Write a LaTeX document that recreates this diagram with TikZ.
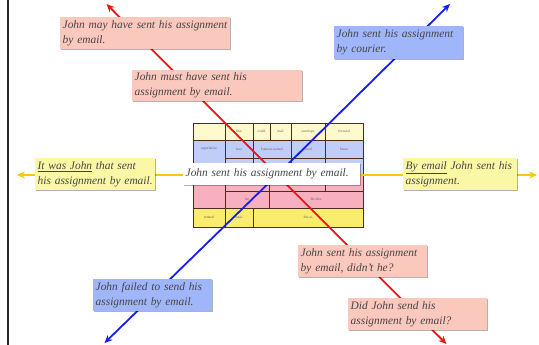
\documentclass[tikz,border=0pt]{standalone}
\usepackage{fontspec}
\setmainfont{Liberation Serif}
\usetikzlibrary{arrows.meta,shadows}

\definecolor{inkc}{RGB}{72,68,72}
\definecolor{salmonc}{RGB}{250,200,188}
\definecolor{bluec}{RGB}{160,182,250}
\definecolor{yellowc}{RGB}{250,248,165}
\definecolor{redax}{RGB}{240,20,20}
\definecolor{blueax}{RGB}{20,30,245}
\definecolor{goldax}{RGB}{250,200,10}
\definecolor{tcream}{RGB}{255,250,205}
\definecolor{tblue}{RGB}{192,204,250}
\definecolor{tpink}{RGB}{248,176,192}
\definecolor{tyellow}{RGB}{250,236,110}
\definecolor{tline}{RGB}{75,45,25}
\definecolor{ttext}{RGB}{110,90,80}

\tikzset{
  note/.style={anchor=north west, draw=none, inner xsep=2.5pt, inner ysep=0pt,
    align=left, text=inkc, font=\fontsize{11.4}{15}\selectfont\itshape,
    drop shadow={shadow xshift=1.2pt, shadow yshift=-1.2pt, fill=black, opacity=0.3}},
  salmonnote/.style={note, fill=salmonc},
  bluenote/.style={note, fill=bluec},
  yellownote/.style={note, fill=yellowc},
  axisline/.style={line width=1.8pt, -{Stealth[length=8pt,width=7pt]}},
  cellbox/.style={draw=tline, line width=0.8pt},
  celltext/.style={text=ttext, font=\fontsize{3.6}{4}\selectfont, inner sep=0pt}
}

\begin{document}
\begin{tikzpicture}[x=1pt,y=-1pt]
\useasboundingbox (0,0) rectangle (539,345);

% left margin rule
\draw[line width=1.1pt, black!85] (8,0) -- (8,345);

% ---- table of forms ----
% header row
\path[cellbox, fill=tcream] (193,123) rectangle (225,140);
\path[cellbox, fill=tcream] (225,123) rectangle (253,140);
\path[cellbox, fill=tcream] (253,123) rectangle (270,140);
\path[cellbox, fill=tcream] (270,123) rectangle (291,140);
\path[cellbox, fill=tcream] (291,123) rectangle (325,140);
\path[cellbox, fill=tcream] (325,123) rectangle (363,140);
% blue rows
\path[cellbox, fill=tblue] (193,140) rectangle (225,174);
\path[cellbox, fill=tblue] (225,140) rectangle (253,158);
\path[cellbox, fill=tblue] (253,140) rectangle (291,158);
\path[cellbox, fill=tblue] (291,140) rectangle (325,158);
\path[cellbox, fill=tblue] (325,140) rectangle (363,158);
\path[cellbox, fill=tblue] (225,158) rectangle (253,174);
\path[cellbox, fill=tblue] (253,158) rectangle (291,174);
\path[cellbox, fill=tblue] (291,158) rectangle (325,174);
\path[cellbox, fill=tblue] (325,158) rectangle (363,174);
% pink rows
\path[cellbox, fill=tpink] (193,174) rectangle (225,208);
\path[cellbox, fill=tpink] (225,174) rectangle (269,191);
\path[cellbox, fill=tpink] (269,174) rectangle (325,191);
\path[cellbox, fill=tpink] (325,174) rectangle (363,191);
\path[cellbox, fill=tpink] (225,191) rectangle (269,208);
\path[cellbox, fill=tpink] (269,191) rectangle (363,208);
% yellow row
\path[cellbox, fill=tyellow] (193,208) rectangle (225,227);
\path[cellbox, fill=tyellow] (225,208) rectangle (253,227);
\path[cellbox, fill=tyellow] (253,208) rectangle (363,227);

% cell words
\node[celltext] (c1) at (239,131.5) {like};
\node[celltext] (c2) at (261.5,131.5) {could};
\node[celltext] (c3) at (280.5,131.5) {mail};
\node[celltext] (c4) at (308,131.5) {envelope};
\node[celltext] (c5) at (344,131.5) {forward};
\node[celltext] (c6) at (209,149) {superlative};
\node[celltext] (c7) at (239,149) {love};
\node[celltext] (c8) at (272,149) {Famous named};
\node[celltext] (c9) at (308,149) {sized};
\node[celltext] (c10) at (344,149) {Sense};
\node[celltext] (c11) at (247,199.5) {Im};
\node[celltext] (c12) at (316,199.5) {Bo ides};
\node[celltext] (c13) at (209,217.5) {tenned};
\node[celltext] (c14) at (239,217.5) {basic};
\node[celltext] (c15) at (308,217.5) {Pas as};

% ---- axes ----
\coordinate (ctr) at (277,175);
\coordinate (redTop) at (106.5,4);
\coordinate (redBot) at (446.5,344);
\coordinate (blueTop) at (450,4);
\coordinate (blueBot) at (104.5,343);
\coordinate (goldL) at (17,175);
\coordinate (goldR) at (537,175);

\draw[axisline, draw=goldax, color=goldax] (ctr) -- (goldL);
\draw[axisline, draw=goldax, color=goldax] (ctr) -- (goldR);
\draw[axisline, draw=redax, color=redax] (ctr) -- (redTop);
\draw[axisline, draw=redax, color=redax] (ctr) -- (redBot);
\draw[axisline, draw=blueax, color=blueax] (ctr) -- (blueTop);
\draw[axisline, draw=blueax, color=blueax] (ctr) -- (blueBot);

% ---- central sentence ----
\node[note, fill=white, minimum width=177pt, minimum height=22pt, text width=172pt]
  (base) at (183,163) {\mbox{John sent his assignment by email.}};

% ---- variants ----
\node[salmonnote, minimum width=170pt, minimum height=32pt, text width=165pt]
  (may) at (60,17) {\mbox{John may have sent his assignment}\\\mbox{by email.}};
\node[salmonnote, minimum width=170pt, minimum height=31pt, text width=165pt]
  (must) at (132,70) {\mbox{John must have sent his}\\\mbox{assignment by email.}};
\node[bluenote, minimum width=129pt, minimum height=33pt, text width=124pt]
  (courier) at (334,26) {\mbox{John sent his assignment}\\\mbox{by courier.}};
\node[yellownote, minimum width=120pt, minimum height=32pt, text width=115pt]
  (cleft) at (35,158) {\mbox{\underline{It was John} that sent}\\\mbox{his assignment by email.}};
\node[yellownote, minimum width=114pt, minimum height=32pt, text width=109pt]
  (front) at (403,158) {\mbox{\underline{By email} John sent his}\\\mbox{assignment.}};
\node[bluenote, minimum width=119pt, minimum height=32pt, text width=114pt]
  (failed) at (93,279) {\mbox{John failed to send his}\\\mbox{assignment by email.}};
\node[salmonnote, minimum width=129pt, minimum height=32pt, text width=124pt]
  (tag) at (298,245) {\mbox{John sent his assignment}\\\mbox{by email, didn't he?}};
\node[salmonnote, minimum width=139pt, minimum height=32pt, text width=134pt]
  (question) at (348,298) {\mbox{Did John send his}\\\mbox{assignment by email?}};
\end{tikzpicture}
\end{document}
